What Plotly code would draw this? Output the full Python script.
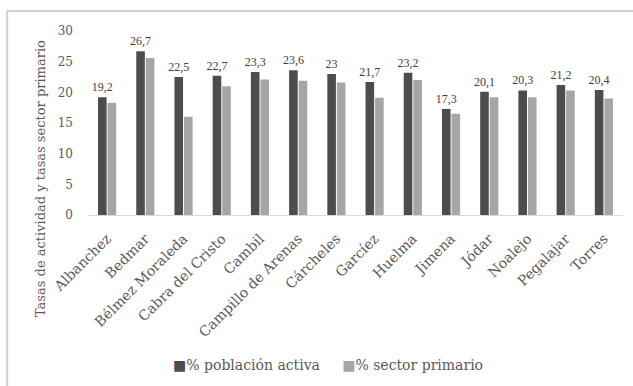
import plotly.graph_objects as go

municipios = ["Albanchez", "Bedmar", "Bélmez Moraleda", "Cabra del Cristo", "Cambil",
              "Campillo de Arenas", "Cárcheles", "Garcíez", "Huelma", "Jimena",
              "Jódar", "Noalejo", "Pegalajar", "Torres"]
poblacion_activa = [19.2, 26.7, 22.5, 22.7, 23.3, 23.6, 23.0, 21.7, 23.2, 17.3, 20.1, 20.3, 21.2, 20.4]
sector_primario = [18.3, 25.6, 16.0, 21.0, 22.1, 21.9, 21.6, 19.1, 22.0, 16.5, 19.2, 19.2, 20.3, 19.0]
y_ticks = [0, 5, 10, 15, 20, 25, 30]

SERIF = "DejaVu Serif"
NARROW = "Liberation Serif"
TXT = "#595959"
DARK = "#4d4d4d"
LIGHT = "#a6a6a6"

fig = go.Figure()
fig.add_trace(go.Bar(
    x=municipios, y=poblacion_activa, name="% población activa",
    marker=dict(color=DARK, line=dict(width=0)),
    text=[f"{v:g}".replace(".", ",") for v in poblacion_activa],
    textposition="outside", cliponaxis=False, constraintext="none",
    textfont=dict(family=NARROW, size=12, color="#404040"),
))
fig.add_trace(go.Bar(
    x=municipios, y=sector_primario, name="% sector primario",
    marker=dict(color=LIGHT, line=dict(width=0)),
))

# legend drawn as a single centred line of text with square markers
legend_text = (f'<span style="color:{DARK}">■</span>% población activa'
               f'&nbsp;&nbsp;&nbsp;&nbsp;&nbsp;'
               f'<span style="color:{LIGHT}">■</span>% sector primario')

fig.update_layout(
    width=633, height=386,
    margin=dict(l=88, r=10, t=31, b=171),
    paper_bgcolor="white", plot_bgcolor="white",
    barmode="group", bargap=0.5, bargroupgap=0.1,
    font=dict(family=SERIF, size=12, color=TXT),
    showlegend=False,
    xaxis=dict(tickangle=-45, showline=True, linecolor="#d9d9d9", linewidth=1,
               ticks="", ticklabelstandoff=9,
               tickfont=dict(family=SERIF, size=14, color=TXT)),
    yaxis=dict(range=[0, 30], tickvals=y_ticks, showgrid=False, zeroline=False,
               showline=False, ticks="", ticklabelstandoff=14,
               tickfont=dict(family=SERIF, size=12, color=TXT)),
    annotations=[
        dict(text="Tasas de actividad y tasas sector primario", textangle=-90,
             xref="paper", yref="paper", x=-0.09, y=0.2,
             xanchor="center", yanchor="middle", showarrow=False,
             font=dict(family=SERIF, size=13, color=TXT)),
        dict(text=legend_text, xref="paper", yref="paper", x=0.449, y=-0.815,
             xanchor="center", yanchor="middle", showarrow=False,
             font=dict(family=SERIF, size=14, color=TXT)),
    ],
    shapes=[
        dict(type="line", xref="paper", yref="paper", x0=-0.152, x1=1.02, y0=1.109, y1=1.109,
             line=dict(color="#d0d0d0", width=2)),
        dict(type="line", xref="paper", yref="paper", x0=-0.151, x1=-0.151, y0=1.109, y1=-0.93,
             line=dict(color="#d0d0d0", width=2)),
    ],
)

fig.write_html("out.html")
